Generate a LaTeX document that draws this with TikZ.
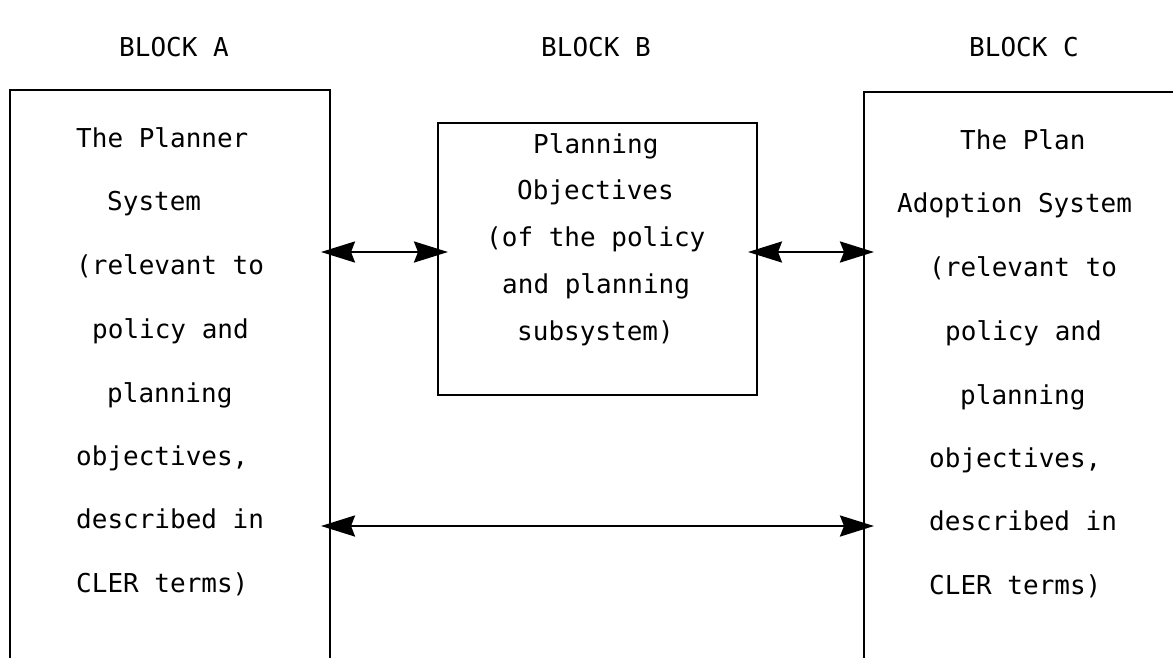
\documentclass[tikz,border=0pt]{standalone}
\usepackage{fontspec}
\newfontfamily\typewriter{DejaVu Sans Mono}
\usetikzlibrary{arrows.meta}
\begin{document}
\begin{tikzpicture}[x=1pt,y=-1pt,
  frame/.style={draw=none,inner sep=0pt,outer sep=0pt},
  edge/.style={line width=2.4pt,line join=miter},
  twoway/.style={line width=2.6pt,
    {Stealth[length=34pt,width=21pt,inset=4pt]}-{Stealth[length=34pt,width=21pt,inset=4pt]},
    shorten <=-9pt,shorten >=-10pt},
  txt/.style={anchor=base west,inner sep=0pt,
    font=\typewriter\fontsize{26}{30}\selectfont}]
\useasboundingbox (0,0) rectangle (1173,657);

% block frames (A and C run off the page)
\node[frame,minimum width=320pt,minimum height=575pt] (A) at (170,377.5) {};
\node[frame,draw,line width=2.4pt,minimum width=319pt,minimum height=272pt] (B) at (597.5,259) {};
\node[frame,minimum width=330pt,minimum height=573pt] (C) at (1029,378.5) {};
\draw[edge] (A.south west) -- (A.north west) -- (A.north east) -- (A.south east);
\draw[edge] (C.south west) -- (C.north west) -- (C.north east);

% headings
\node[txt] (hA) at (119,56) {BLOCK A};
\node[txt] (hB) at (541,56) {BLOCK B};
\node[txt] (hC) at (969,56) {BLOCK C};

% block A text
\node[txt] (a1) at (76,147)   {The Planner};
\node[txt] (a2) at (107,210)  {System};
\node[txt] (a3) at (76,274)   {(relevant to};
\node[txt] (a4) at (92,338)   {policy and};
\node[txt] (a5) at (107,402)  {planning};
\node[txt] (a6) at (76,465)   {objectives,};
\node[txt] (a7) at (76,528)   {described in};
\node[txt] (a8) at (76,592)   {CLER terms)};

% block B text
\node[txt] (b1) at (533,153)   {Planning};
\node[txt] (b2) at (517,199)   {Objectives};
\node[txt] (b3) at (486,246)   {(of the policy};
\node[txt] (b4) at (502,293)   {and planning};
\node[txt] (b5) at (517,340)   {subsystem)};

% block C text
\node[txt] (c1) at (960,149)  {The Plan};
\node[txt] (c2) at (897,212)  {Adoption System};
\node[txt] (c3) at (929,276)  {(relevant to};
\node[txt] (c4) at (945,340)  {policy and};
\node[txt] (c5) at (960,404)  {planning};
\node[txt] (c6) at (929,467)  {objectives,};
\node[txt] (c7) at (929,530)  {described in};
\node[txt] (c8) at (929,594)  {CLER terms)};

% connectors
\coordinate (upper) at (0,252);
\coordinate (lower) at (0,526);
\draw[twoway] (A.east |- upper) -- (B.west |- upper);
\draw[twoway] (B.east |- upper) -- (C.west |- upper);
\draw[twoway] (A.east |- lower) -- (C.west |- lower);
\end{tikzpicture}
\end{document}
